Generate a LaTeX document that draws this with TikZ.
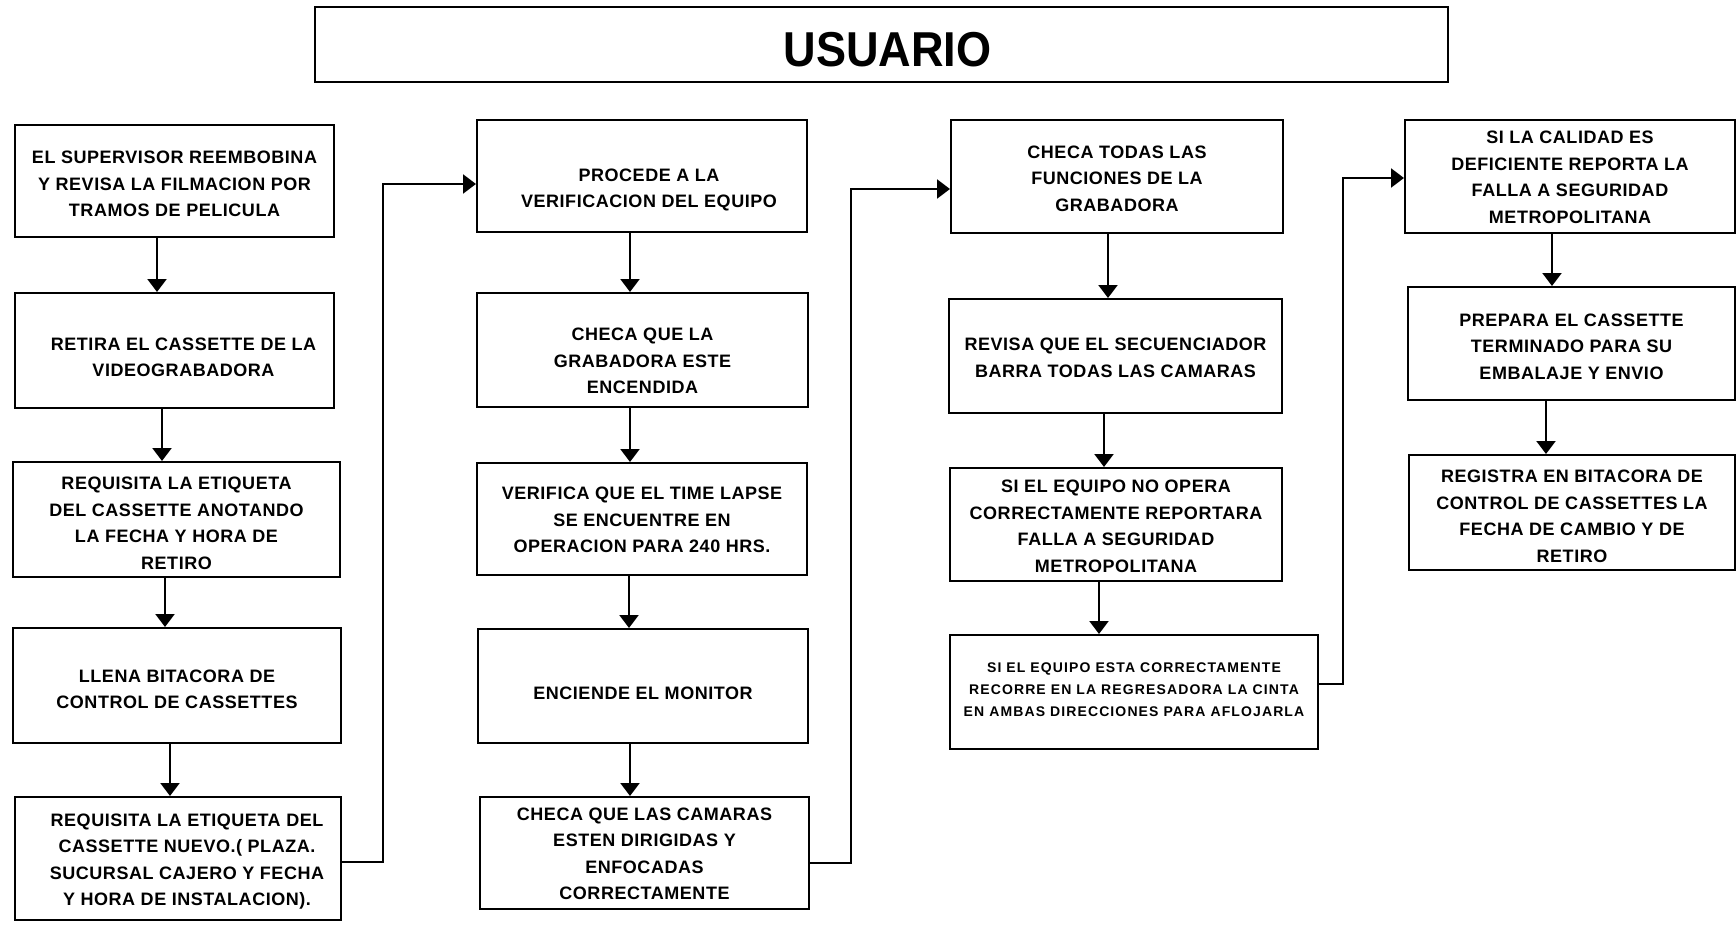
\documentclass[tikz,border=0pt]{standalone}
\usepackage{fontspec}
\setmainfont{Liberation Sans}
\newfontfamily\boxfont[LetterSpace=3]{Liberation Sans}
\newfontfamily\smallboxfont[LetterSpace=8]{Liberation Sans}
\newfontfamily\titlefont[FakeStretch=0.92]{Liberation Sans}
\usetikzlibrary{arrows.meta}
\begin{document}
\begin{tikzpicture}[x=0.5pt,y=-0.5pt,
  fbox/.style={draw,line width=1pt,rectangle,inner sep=0pt},
  txt/.style={align=center,inner sep=0pt,font=\boxfont\bfseries\fontsize{9}{13.25}\selectfont},
  smalltxt/.style={align=center,inner sep=0pt,font=\smallboxfont\bfseries\fontsize{7}{11}\selectfont},
  titletxt/.style={inner sep=0pt,font=\titlefont\bfseries\fontsize{24.5}{28}\selectfont},
  arr/.style={line width=1.1pt,-{Triangle[width=9.5pt,length=6.5pt]}}]
\useasboundingbox (0,0) rectangle (1736,931);

% title
\node[fbox,minimum width=566.5pt,minimum height=37.5pt,label={[titletxt,yshift=-2.5pt,xshift=3pt]center:{USUARIO}}] (title) at (881.5,44.5) {};

% column 1
\node[fbox,minimum width=159.5pt,minimum height=56pt,label={[txt,yshift=-1.5pt]center:{EL SUPERVISOR REEMBOBINA\\Y REVISA LA FILMACION POR\\TRAMOS DE PELICULA}}] (b1) at (174.5,181) {};
\node[fbox,minimum width=159.5pt,minimum height=57.5pt,label={[txt,yshift=-3.5pt,xshift=4.5pt]center:{RETIRA EL CASSETTE DE LA\\VIDEOGRABADORA}}] (b2) at (174.5,350.5) {};
\node[fbox,minimum width=163.5pt,minimum height=57.5pt,label={[txt,yshift=-2pt]center:{REQUISITA LA ETIQUETA\\DEL CASSETTE ANOTANDO\\LA FECHA Y HORA DE\\RETIRO}}] (b3) at (176.5,519.5) {};
\node[fbox,minimum width=164pt,minimum height=57.5pt,label={[txt,yshift=-2pt]center:{LLENA BITACORA DE\\CONTROL DE CASSETTES}}] (b4) at (177,685.5) {};
\node[fbox,minimum width=163pt,minimum height=61.5pt,label={[txt,yshift=-1.5pt,xshift=4.5pt]center:{REQUISITA LA ETIQUETA DEL\\CASSETTE NUEVO.( PLAZA.\\SUCURSAL CAJERO Y FECHA\\Y HORA DE INSTALACION).}}] (b5) at (178,858.5) {};

% column 2
\node[fbox,minimum width=165pt,minimum height=56pt,label={[txt,yshift=-7pt,xshift=3.5pt]center:{PROCEDE A LA\\VERIFICACION DEL EQUIPO}}] (b6) at (642,176) {};
\node[fbox,minimum width=165.5pt,minimum height=57pt,label={[txt,yshift=-5.5pt]center:{CHECA QUE LA\\GRABADORA ESTE\\ENCENDIDA}}] (b7) at (642.5,350) {};
\node[fbox,minimum width=165pt,minimum height=56pt,label={[txt,yshift=-0.5pt]center:{VERIFICA QUE EL TIME LAPSE\\SE ENCUENTRE EN\\OPERACION PARA 240 HRS.}}] (b8) at (642,519) {};
\node[fbox,minimum width=165pt,minimum height=57pt,label={[txt,yshift=-3.5pt]center:{ENCIENDE EL MONITOR}}] (b9) at (643,686) {};
\node[fbox,minimum width=164.5pt,minimum height=56pt,label={[txt,yshift=-0.5pt]center:{CHECA QUE LAS CAMARAS\\ESTEN DIRIGIDAS Y\\ENFOCADAS\\CORRECTAMENTE}}] (b10) at (644.5,853) {};

% column 3
\node[fbox,minimum width=166pt,minimum height=56.5pt,label={[txt,yshift=-1pt]center:{CHECA TODAS LAS\\FUNCIONES DE LA\\GRABADORA}}] (b11) at (1117,176.5) {};
\node[fbox,minimum width=166.5pt,minimum height=57pt,label={[txt,yshift=-1pt]center:{REVISA QUE EL SECUENCIADOR\\BARRA TODAS LAS CAMARAS}}] (b12) at (1115.5,356) {};
\node[fbox,minimum width=166pt,minimum height=56.5pt,label={[txt,yshift=-1pt]center:{SI EL EQUIPO NO OPERA\\CORRECTAMENTE REPORTARA\\FALLA A SEGURIDAD\\METROPOLITANA}}] (b13) at (1116,524.5) {};
\node[fbox,minimum width=184pt,minimum height=57pt,label={[smalltxt,yshift=1pt]center:{SI EL EQUIPO ESTA CORRECTAMENTE\\RECORRE EN LA REGRESADORA LA CINTA\\EN AMBAS DIRECCIONES PARA AFLOJARLA}}] (b14) at (1134,692) {};

% column 4
\node[fbox,minimum width=165pt,minimum height=56.5pt,label={[txt,yshift=-0.5pt]center:{SI LA CALIDAD ES\\DEFICIENTE REPORTA LA\\FALLA A SEGURIDAD\\METROPOLITANA}}] (b15) at (1570,176.5) {};
\node[fbox,minimum width=163.5pt,minimum height=56.5pt,label={[txt,yshift=-1.5pt]center:{PREPARA EL CASSETTE\\TERMINADO PARA SU\\EMBALAJE Y ENVIO}}] (b16) at (1571.5,343.5) {};
\node[fbox,minimum width=163pt,minimum height=57.5pt,label={[txt,yshift=-2pt]center:{REGISTRA EN BITACORA DE\\CONTROL DE CASSETTES LA\\FECHA DE CAMBIO Y DE\\RETIRO}}] (b17) at (1572,512.5) {};

% vertical arrow positions
\coordinate (v1) at (157,0);
\coordinate (v2) at (162,0);
\coordinate (v3) at (165,0);
\coordinate (v4) at (170,0);
\coordinate (v6) at (630,0);
\coordinate (v7) at (630,0);
\coordinate (v8) at (629,0);
\coordinate (v9) at (630,0);
\coordinate (v11) at (1108,0);
\coordinate (v12) at (1104,0);
\coordinate (v13) at (1099,0);
\coordinate (v15) at (1552,0);
\coordinate (v16) at (1546,0);

\draw[arr] (b1.south -| v1) -- (b2.north -| v1);
\draw[arr] (b2.south -| v2) -- (b3.north -| v2);
\draw[arr] (b3.south -| v3) -- (b4.north -| v3);
\draw[arr] (b4.south -| v4) -- (b5.north -| v4);
\draw[arr] (b6.south -| v6) -- (b7.north -| v6);
\draw[arr] (b7.south -| v7) -- (b8.north -| v7);
\draw[arr] (b8.south -| v8) -- (b9.north -| v8);
\draw[arr] (b9.south -| v9) -- (b10.north -| v9);
\draw[arr] (b11.south -| v11) -- (b12.north -| v11);
\draw[arr] (b12.south -| v12) -- (b13.north -| v12);
\draw[arr] (b13.south -| v13) -- (b14.north -| v13);
\draw[arr] (b15.south -| v15) -- (b16.north -| v15);
\draw[arr] (b16.south -| v16) -- (b17.north -| v16);

% column links
\coordinate (k1a) at (383,862);
\coordinate (k1b) at (383,184);
\coordinate (k2a) at (851,863);
\coordinate (k2b) at (851,189);
\coordinate (k3a) at (1343,684);
\coordinate (k3b) at (1343,178);
\draw[arr] (k1a -| b5.east) -- (k1a) -- (k1b) -- (k1b -| b6.west);
\draw[arr] (k2a -| b10.east) -- (k2a) -- (k2b) -- (k2b -| b11.west);
\draw[arr] (k3a -| b14.east) -- (k3a) -- (k3b) -- (k3b -| b15.west);
\end{tikzpicture}
\end{document}
